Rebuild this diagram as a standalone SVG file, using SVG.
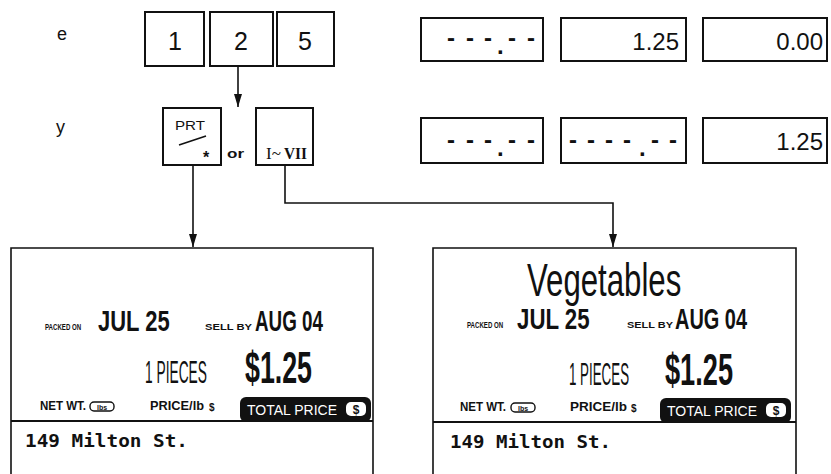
<svg xmlns="http://www.w3.org/2000/svg" width="831" height="474" viewBox="0 0 831 474">
<defs>
<style>
.bx{fill:#fff;stroke:#111;stroke-width:2}
.ln{fill:none;stroke:#111;stroke-width:1.6}
.t{font-family:"Liberation Sans","DejaVu Sans",sans-serif;fill:#111}
.b{font-weight:bold}
.seg{font-family:"Liberation Sans","DejaVu Sans",sans-serif;fill:#111;font-size:24px;text-anchor:end}
.dash{font-family:"Liberation Sans","DejaVu Sans",sans-serif;font-weight:bold;fill:#111;font-size:24px}
.mono{font-family:"DejaVu Sans Mono","Liberation Mono",monospace;font-weight:bold;fill:#111}
</style>
<marker id="ah" markerUnits="userSpaceOnUse" markerWidth="14" markerHeight="8" refX="13" refY="4" orient="auto">
<path d="M0,0 L13,4 L0,8 z" fill="#111"/>
</marker>
</defs>
<rect width="831" height="474" fill="#fff"/>

<g id="side-text">
<text class="t" x="57" y="40" font-size="18">e</text>
<text class="t" x="56" y="133" font-size="18">y</text>
</g>

<g id="key-1"><rect class="bx" x="145" y="12" width="59" height="54"/><text class="t" x="175" y="50" font-size="25" text-anchor="middle">1</text></g>
<g id="key-2"><rect class="bx" x="210" y="12" width="63" height="54"/><text class="t" x="241" y="50" font-size="25" text-anchor="middle">2</text></g>
<g id="key-5"><rect class="bx" x="277" y="12" width="57" height="54"/><text class="t" x="305" y="50" font-size="25" text-anchor="middle">5</text></g>

<g id="key-prt">
<rect class="bx" x="163" y="108" width="58" height="57"/>
<text class="t" x="175" y="130" font-size="13" textLength="30" lengthAdjust="spacingAndGlyphs">PRT</text>
<line x1="179" y1="145" x2="206" y2="136" stroke="#111" stroke-width="1.6"/>
<text class="t b" x="203" y="163" font-size="16">*</text>
</g>
<g id="or-text"><text class="t b" x="227" y="158" font-size="13" textLength="17" lengthAdjust="spacingAndGlyphs">or</text></g>
<g id="key-dept">
<rect class="bx" x="256" y="108" width="57" height="57"/>
<text font-family="Liberation Serif,serif" font-size="17" fill="#111" y="159"><tspan x="266">I~</tspan><tspan x="284" font-weight="bold" textLength="23" lengthAdjust="spacingAndGlyphs">VII</tspan></text>
</g>

<g id="display-row1">
<rect class="bx" x="421" y="18" width="122" height="43"/>
<text class="dash" x="447 466 484 497 508 527" y="46 46 46 54 46 46">---.--</text>
<rect class="bx" x="561" y="18" width="125" height="43"/>
<text class="seg" x="679" y="50">1.25</text>
<rect class="bx" x="703" y="18" width="124" height="43"/>
<text class="seg" x="823" y="50">0.00</text>
</g>
<g id="display-row2">
<rect class="bx" x="421" y="118" width="122" height="45"/>
<text class="dash" x="447 466 484 497 508 527" y="148 148 148 156 148 148">---.--</text>
<rect class="bx" x="561" y="118" width="125" height="45"/>
<text class="dash" x="569 587 605 623 639 651 669" y="148 148 148 148 156 148 148">----.--</text>
<rect class="bx" x="703" y="118" width="124" height="45"/>
<text class="seg" x="823" y="150">1.25</text>
</g>

<g id="label-left">
<path class="ln" d="M11,474 V248 H373 V474" stroke-width="2"/>
<text class="t b" transform="translate(45,330) scale(0.68,1)" font-size="9">PACKED ON</text>
<text class="t b" transform="translate(98,331) scale(0.758,1)" font-size="29">JUL 25</text>
<text class="t b" x="205" y="330" font-size="9" textLength="47" lengthAdjust="spacingAndGlyphs">SELL BY</text>
<text class="t b" transform="translate(255,331) scale(0.649,1)" font-size="29">AUG 04</text>
<text class="t" transform="translate(145,383) scale(0.43,1)" font-size="32">1 PIECES</text>
<text class="t b" transform="translate(245,383) scale(0.609,1)" font-size="44">$1.25</text>
<text class="t b" transform="translate(40,410) scale(0.96,1)" font-size="12">NET WT.</text>
<rect x="90" y="402" width="24" height="9" rx="4" fill="#fff" stroke="#111" stroke-width="1.4"/>
<text class="t b" x="102" y="409.5" font-size="7" text-anchor="middle">lbs</text>
<text class="t b" x="150" y="410" font-size="12" textLength="54" lengthAdjust="spacingAndGlyphs">PRICE/lb</text>
<text class="t b" x="209" y="411" font-size="10">$</text>
<rect x="240" y="397" width="131" height="25" rx="6" fill="#111"/>
<text class="t" x="247" y="415" font-size="14" textLength="90" lengthAdjust="spacingAndGlyphs" style="fill:#fff">TOTAL PRICE</text>
<rect x="346" y="402" width="20" height="14" rx="5" fill="#fff"/>
<text class="t b" x="356" y="413.5" font-size="12" text-anchor="middle">$</text>
<line x1="11" y1="421" x2="373" y2="421" stroke="#111" stroke-width="2"/>
<text class="mono" x="25" y="447" font-size="17" textLength="163" lengthAdjust="spacingAndGlyphs">149 Milton St.</text>
</g>

<g id="label-right">
<path class="ln" d="M433,474 V248 H796 V474" stroke-width="2"/>
<text class="t" transform="translate(527,296) scale(0.678,1)" font-size="46">Vegetables</text>
<text class="t b" transform="translate(467,328) scale(0.68,1)" font-size="9">PACKED ON</text>
<text class="t b" transform="translate(517,329) scale(0.768,1)" font-size="29">JUL 25</text>
<text class="t b" x="627" y="328" font-size="9" textLength="46" lengthAdjust="spacingAndGlyphs">SELL BY</text>
<text class="t b" transform="translate(675,329) scale(0.688,1)" font-size="29">AUG 04</text>
<text class="t" transform="translate(569,385) scale(0.417,1)" font-size="32">1 PIECES</text>
<text class="t b" transform="translate(665,385) scale(0.618,1)" font-size="44">$1.25</text>
<text class="t b" transform="translate(460,411) scale(0.96,1)" font-size="12">NET WT.</text>
<rect x="511" y="403" width="24" height="9" rx="4" fill="#fff" stroke="#111" stroke-width="1.4"/>
<text class="t b" x="523" y="410.5" font-size="7" text-anchor="middle">lbs</text>
<text class="t b" x="570" y="411" font-size="12" textLength="57" lengthAdjust="spacingAndGlyphs">PRICE/lb</text>
<text class="t b" x="631" y="412" font-size="10">$</text>
<rect x="660" y="398" width="131" height="25" rx="6" fill="#111"/>
<text class="t" x="667" y="416" font-size="14" textLength="90" lengthAdjust="spacingAndGlyphs" style="fill:#fff">TOTAL PRICE</text>
<rect x="766" y="403" width="20" height="14" rx="5" fill="#fff"/>
<text class="t b" x="776" y="414.5" font-size="12" text-anchor="middle">$</text>
<line x1="433" y1="422" x2="796" y2="422" stroke="#111" stroke-width="2"/>
<text class="mono" x="450" y="448" font-size="17" textLength="161" lengthAdjust="spacingAndGlyphs">149 Milton St.</text>
</g>

<g id="connectors">
<line class="ln" x1="238" y1="66" x2="238" y2="107" marker-end="url(#ah)"/>
<line class="ln" x1="193" y1="165" x2="193" y2="247" marker-end="url(#ah)"/>
<polyline class="ln" points="285,165 285,203 613,203 613,247" marker-end="url(#ah)"/>
</g>
</svg>
